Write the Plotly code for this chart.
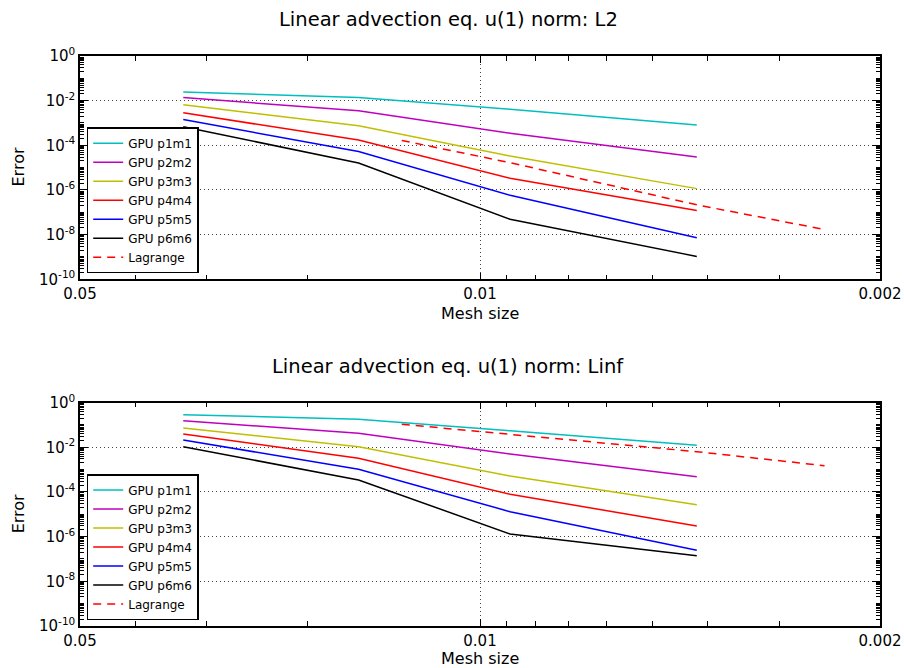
import numpy as np
import plotly.graph_objects as go

# ---------------- data ----------------
mesh_gpu = [0.033, 0.0163, 0.00886, 0.00418]
mesh_lag = [0.0137, 0.00886, 0.00418, 0.0025]

series_names = ["GPU p1m1", "GPU p2m2", "GPU p3m3", "GPU p4m4", "GPU p5m5", "GPU p6m6"]

l2_p1m1 = [0.0247, 0.01375, 0.00413, 8.05e-4]
l2_p2m2 = [0.0137, 0.00351, 3.5e-4, 3.0e-5]
l2_p3m3 = [0.0065, 7.5e-4, 3.3e-5, 1.15e-6]
l2_p4m4 = [2.85e-3, 1.72e-4, 3.33e-6, 1.2e-7]
l2_p5m5 = [1.43e-3, 5.3e-5, 5.8e-7, 7.3e-9]
l2_p6m6 = [6.76e-4, 1.62e-5, 4.9e-8, 1.06e-9]
l2_lagrange = [1.65e-4, 1.67e-5, 2.16e-7, 1.7e-8]

linf_p1m1 = [0.2875, 0.179, 0.0547, 0.01228]
linf_p2m2 = [0.155, 0.0423, 4.96e-3, 4.84e-4]
linf_p3m3 = [0.073, 0.01064, 5.2e-4, 2.7e-5]
linf_p4m4 = [0.0394, 3.22e-3, 7.9e-5, 3.0e-6]
linf_p5m5 = [0.0212, 1.04e-3, 1.31e-5, 2.46e-7]
linf_p6m6 = [0.01064, 3.44e-4, 1.32e-6, 1.41e-7]
linf_lagrange = [0.107, 0.039, 6.35e-3, 1.5e-3]

y_tickvals = [1e0, 1e-2, 1e-4, 1e-6, 1e-8, 1e-10]
y_ticktext = ["10<sup>0</sup>", "10<sup>-2</sup>", "10<sup>-4</sup>", "10<sup>-6</sup>",
              "10<sup>-8</sup>", "10<sup>-10</sup>"]
x_tickvals = [0.05, 0.01, 0.002]
x_ticktext = ["0.05", "0.01", "0.002"]

titles = ["Linear advection eq. u(1) norm: L2", "Linear advection eq. u(1) norm: Linf"]

# ---------------- styling ----------------
colors = ["#00bfbf", "#bf00bf", "#bfbf00", "#ff0000", "#0000ff", "#000000"]
FONT = "DejaVu Sans"

W, H = 904, 668
ML, MR, MT, MB = 80, 24, 56, 42
ph = H - MT - MB
pw = W - ML - MR


def py(pix):
    return (H - MB - pix) / ph


def px(pix):
    return (pix - ML) / pw


top_dom = [py(279.3), 1.0]
bot_dom = [0.0, py(402.6)]

fig = go.Figure()

l2_sets = [l2_p1m1, l2_p2m2, l2_p3m3, l2_p4m4, l2_p5m5, l2_p6m6]
linf_sets = [linf_p1m1, linf_p2m2, linf_p3m3, linf_p4m4, linf_p5m5, linf_p6m6]

for sets, lag, xa, ya, lg in [(l2_sets, l2_lagrange, "x", "y", "legend"),
                              (linf_sets, linf_lagrange, "x2", "y2", "legend2")]:
    for name, vals, c in zip(series_names, sets, colors):
        fig.add_trace(go.Scatter(x=mesh_gpu, y=vals, mode="lines", name=name,
                                 line=dict(color=c, width=1.5), xaxis=xa, yaxis=ya,
                                 legend=lg))
    fig.add_trace(go.Scatter(x=mesh_lag, y=lag, mode="lines", name="Lagrange",
                             line=dict(color="#ff0000", width=1.5, dash="8px,6px"),
                             xaxis=xa, yaxis=ya, legend=lg))

# minor tick values
x_minor = [0.04, 0.03, 0.02, 0.009, 0.008, 0.007, 0.006, 0.005, 0.004, 0.003]
y_minor = [m * 10.0 ** e for e in range(-10, 0) for m in range(2, 10)] + [10.0 ** e for e in range(-9, 0, 2)]

xax = dict(type="log", range=[np.log10(0.05), np.log10(0.002)], automargin=False,
           tickvals=x_tickvals, ticktext=x_ticktext, ticks="inside", ticklen=7,
           tickwidth=1, tickcolor="black", mirror="allticks", showline=True,
           linecolor="black", linewidth=1.5, showgrid=True, gridcolor="#444",
           gridwidth=1, griddash="1px,3px", zeroline=False,
           tickfont=dict(family=FONT, size=15, color="black"),
           minor=dict(tickvals=x_minor, ticks="inside", ticklen=5, tickcolor="black",
                      tickwidth=1, showgrid=False))
yax = dict(type="log", range=[-10, 0], tickvals=y_tickvals, ticktext=y_ticktext,
           automargin=False,
           ticks="inside", ticklen=8, tickwidth=1, tickcolor="black", mirror="allticks",
           showline=True, linecolor="black", linewidth=1.5, showgrid=True,
           gridcolor="#444", gridwidth=1, griddash="1px,3px", zeroline=False,
           tickfont=dict(family=FONT, size=15, color="black"),
           minor=dict(tickvals=y_minor, ticks="inside", ticklen=4, tickcolor="black",
                      tickwidth=1, showgrid=False))

legend_style = dict(font=dict(family=FONT, size=12, color="black"),
                    bordercolor="black", borderwidth=1.5, bgcolor="white",
                    xanchor="left", yanchor="bottom", tracegroupgap=0, itemwidth=30)

annotations = []
for t, ymid in [(titles[0], 19), (titles[1], 366)]:
    annotations.append(dict(text=t, x=px(448), y=py(ymid), xref="paper", yref="paper",
                            showarrow=False, xanchor="center", yanchor="middle",
                            font=dict(family=FONT, size=19.5, color="black")))
for ymid in [313, 658]:
    annotations.append(dict(text="Mesh size", x=0.5, y=py(ymid), xref="paper", yref="paper",
                            showarrow=False, xanchor="center", yanchor="middle",
                            font=dict(family=FONT, size=16, color="black")))
for ymid in [167.5, 514.3]:
    annotations.append(dict(text="Error", x=px(18), y=py(ymid),
                            xref="paper", yref="paper", showarrow=False, textangle=-90,
                            xanchor="center", yanchor="middle",
                            font=dict(family=FONT, size=16, color="black")))

fig.update_layout(
    width=W, height=H, margin=dict(l=ML, r=MR, t=MT, b=MB, autoexpand=False),
    paper_bgcolor="white", plot_bgcolor="white",
    font=dict(family=FONT, color="black"),
    xaxis=dict(domain=[0, 1], anchor="y", **xax),
    yaxis=dict(domain=top_dom, anchor="x", **yax),
    xaxis2=dict(domain=[0, 1], anchor="y2", **xax),
    yaxis2=dict(domain=bot_dom, anchor="x2", **yax),
    legend=dict(x=px(86.7), y=py(273.3), **legend_style),
    legend2=dict(x=px(86.7), y=py(620), **legend_style),
    annotations=annotations,
    showlegend=True,
)

fig.write_html("out.html", config={"displayModeBar": False},
               post_script="document.body.style.margin='0';document.body.style.overflow='hidden';")
